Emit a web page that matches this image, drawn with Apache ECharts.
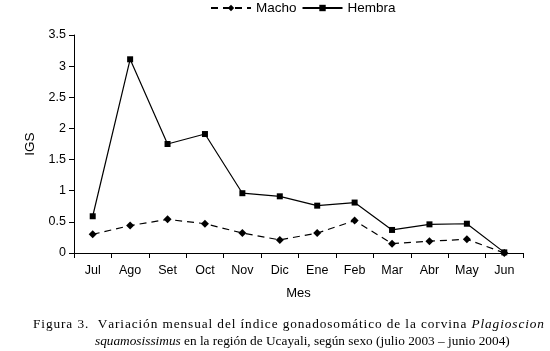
<!DOCTYPE html>
<html><head><meta charset="utf-8">
<script src="https://cdn.jsdelivr.net/npm/echarts@6/dist/echarts.min.js"></script>
<style>html,body{margin:0;padding:0;background:#fff}#c{width:550px;height:351px}</style>
</head><body><div id="c"></div>
<script>
const months = ['Jul','Ago','Set','Oct','Nov','Dic','Ene','Feb','Mar','Abr','May','Jun'];
const macho = [0.30,0.44,0.54,0.47,0.32,0.21,0.32,0.52,0.15,0.19,0.22,0.00];
const hembra = [0.59,3.11,1.75,1.91,0.96,0.91,0.76,0.81,0.37,0.46,0.47,0.01];
const yTicks = [0,0.5,1,1.5,2,2.5,3,3.5];
const caption1 = [['Figura 3.  Variación mensual del índice gonadosomático de la corvina ', false], ['Plagioscion', true]];
const caption2 = [['squamosissimus', true], [' en la región de Ucayali, según sexo (julio 2003 – junio 2004)', false]];

const sans = 'Liberation Sans, Arial, sans-serif';
const serifName = '"Liberation Serif"';
const serif = 'Liberation Serif, Times New Roman, serif';
const capSize = 13.3;

// Justified first caption line: spread characters between x0 and x1
const ctx = document.createElement('canvas').getContext('2d');
function fontFor(it){ return (it ? 'italic ' : '') + capSize + 'px ' + serifName; }
function buildJustified(parts, x0, x1, midY){
  const chars = [];
  parts.forEach(([t,it]) => { for (const ch of t) chars.push([ch,it]); });
  let natural = 0;
  const widths = chars.map(([ch,it]) => { ctx.font = fontFor(it); const w = ctx.measureText(ch).width; natural += w; return w; });
  const sp = (x1 - x0 - natural) / (chars.length - 1);
  const els = [];
  let x = x0;
  chars.forEach(([ch,it],i) => {
    if (ch !== ' ') els.push({type:'text', x:x, y:midY, silent:true, style:{text:ch, fontFamily:serif, fontSize:capSize, fontStyle: it?'italic':'normal', fill:'#000', verticalAlign:'middle', align:'left'}});
    x += widths[i] + sp;
  });
  return els;
}

const chart = echarts.init(document.getElementById('c'));
chart.setOption({
  animation:false,
  backgroundColor:'#fff',
  legend:{
    top:1, left:210, padding:0,
    itemWidth:40, itemHeight:8, itemGap:5,
    textStyle:{fontFamily:sans,fontSize:13.5,color:'#000'},
    data:['Macho','Hembra']
  },
  grid:{left:74,right:27,top:35,bottom:98},
  xAxis:{
    type:'category', data:months, boundaryGap:true,
    name:'Mes', nameLocation:'middle', nameGap:34,
    nameTextStyle:{fontFamily:sans,fontSize:13,color:'#000'},
    axisLine:{lineStyle:{color:'#000',width:1}},
    axisTick:{show:true,length:5,lineStyle:{color:'#000'}},
    axisLabel:{fontFamily:sans,fontSize:12.5,color:'#000',margin:11}
  },
  yAxis:{
    type:'value', min:0, max:3.5, interval:0.5,
    name:'IGS', nameLocation:'middle', nameGap:32,
    nameTextStyle:{fontFamily:sans,fontSize:13.5,color:'#000'},
    axisLine:{show:true,lineStyle:{color:'#000',width:1}},
    axisTick:{show:true,length:5,lineStyle:{color:'#000'}},
    splitLine:{show:false},
    axisLabel:{fontFamily:sans,fontSize:12.5,color:'#000',margin:8,
      formatter:v=>String(yTicks.find(t=>Math.abs(t-v)<1e-9) ?? v)}
  },
  series:[
    {name:'Macho',type:'line',data:macho,symbol:'diamond',symbolSize:8,
     lineStyle:{color:'#000',width:1.2,type:[7,5]},itemStyle:{color:'#000'}},
    {name:'Hembra',type:'line',data:hembra,symbol:'rect',symbolSize:6,
     lineStyle:{color:'#000',width:1.2},itemStyle:{color:'#000'}}
  ],
  graphic: buildJustified(caption1, 33, 544, 324.5).concat([
    {type:'text',left:95,top:335,style:{
      text:'{i|' + caption2[0][0] + '}' + caption2[1][0],
      fontFamily:serif,fontSize:capSize,fill:'#000',
      rich:{i:{fontStyle:'italic',fontFamily:serif,fontSize:capSize}}}}
  ])
});
</script></body></html>
